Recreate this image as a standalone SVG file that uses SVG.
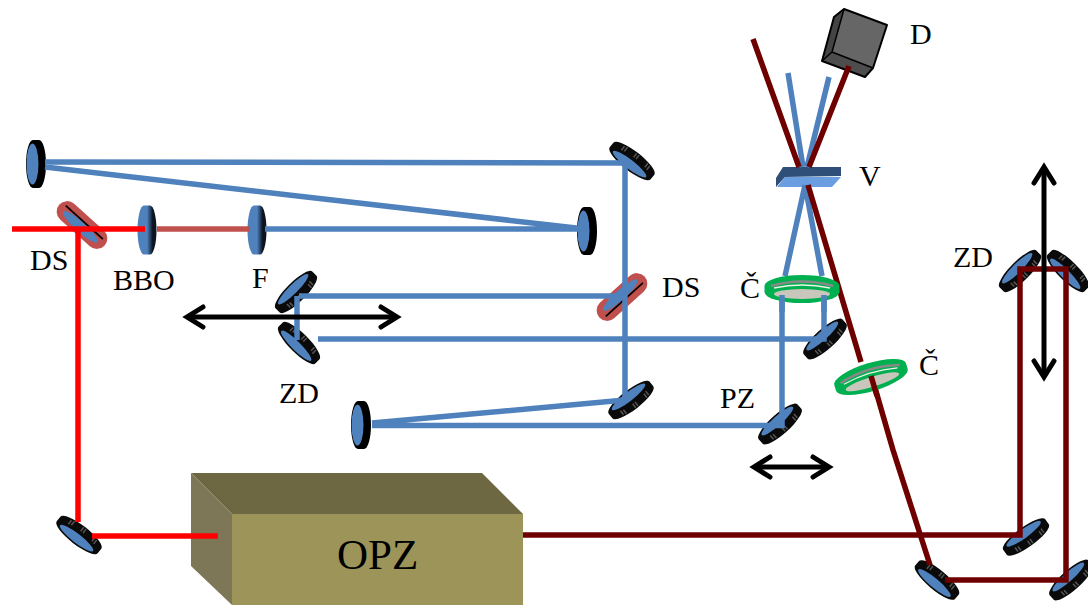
<svg xmlns="http://www.w3.org/2000/svg" width="1088" height="605" viewBox="0 0 1088 605">
<style>
text{font-family:"Liberation Serif","Times New Roman",serif;font-size:30px;fill:#000}
.b{stroke:#4f81bd;stroke-width:5.500;fill:none}
.d{stroke:#6e0000;stroke-width:5.500;fill:none}
.r{stroke:#ff0000;stroke-width:5.500;fill:none}
.a{stroke:#000;stroke-width:5;fill:none}
.tick{stroke:#555;stroke-width:1.500}
.k{fill:#0a0a0a}
</style>
<defs>
<linearGradient id="lg" x1="0" x2="1" y1="0" y2="0"><stop offset="0.5" stop-color="#4f81bd"/><stop offset="0.8" stop-color="#0b1420"/></linearGradient>
<path id="disc" d="M-26 -3A26 7 0 0 1 26 -3V3A26 7 0 0 1 -26 3Z"/>
<g id="mirror-a">
<use href="#disc" class="k"/>
<ellipse cx="0" cy="-4" rx="21" ry="4.500" fill="#4f81bd"/>
<path class="tick" d="M-15 2v5M-12 3v5M-1 4v5M2 4v5M14 3v5M17 2v5"/>
</g>
<g id="mirror-b">
<use href="#disc" class="k"/>
<ellipse cx="0" cy="4" rx="21" ry="4.500" fill="#4f81bd"/>
<path class="tick" d="M-15 -7v5M-12 -8v5M-1 -9v5M2 -9v5M14 -8v5M17 -7v5"/>
</g>
<g id="round"><path d="M-3 -24A7 24 0 0 0 -3 24H3A7 24 0 0 0 3 -24Z" fill="#000"/><ellipse cx="-3.500" cy="0" rx="6" ry="20.500" fill="#4f81bd"/></g>
<g id="plate"><path d="M-3 -24.500A6.500 24.500 0 0 0 -3 24.500H3A6.500 24.500 0 0 0 3 -24.500Z" fill="url(#lg)"/></g>
<g id="ds-a">
<path d="M-20 -10.500H20A10.500 10.500 0 0 1 20 10.500H-20A10.500 10.500 0 0 1 -20 -10.500Z" fill="#c0504d"/>
<ellipse cx="0" cy="-2.500" rx="23" ry="5" fill="#4f81bd"/>
<path d="M-25 3.500H25" stroke="#000" stroke-width="1.800"/>
</g>
<g id="achromat">
<path d="M-37.500 -3A37.500 11 0 0 1 37.500 -3V3A37.500 11 0 0 1 -37.500 3Z" fill="#00b050"/>
<ellipse cx="0" cy="5" rx="28" ry="5" fill="#c9c6bc"/>
<path d="M-31 -3Q0 -12 31 -3" fill="none" stroke="#888" stroke-width="2.500"/>
<path d="M-28 -1Q0 -7 28 -1" fill="none" stroke="#eef2e8" stroke-width="1.300"/>
</g>
<marker id="arr" markerWidth="24" markerHeight="26" refX="19" refY="13" orient="auto-start-reverse" markerUnits="userSpaceOnUse" viewBox="0 0 24 26"><path d="M3 3L19 13L3 23" fill="none" stroke="#000" stroke-width="5" stroke-linecap="round"/></marker>
</defs>

<g id="opz">
<polygon points="191,473 482,473 523,514 232,514" fill="#6e6842"/>
<polygon points="191,473 232,514 232,605 191,566" fill="#7d7757"/>
<rect x="232" y="514" width="291" height="91" fill="#9c9458"/>
<text x="337" y="569" style="font-size:43px">OPZ</text>
</g>
<g id="detector">
<polygon points="844,9 887,25 873,68 832,52" fill="#666"/>
<polygon points="844,9 834,17 822,61 832,52" fill="#444"/>
<polygon points="832,52 873,68 865,77 822,61" fill="#4d4d4d"/>
<polygon points="844,9 887,25 873,68 865,77 822,61 834,17" fill="none" stroke="#000" stroke-width="2" stroke-linejoin="round"/>
<path d="M844,9L832,52L873,68M832,52L822,61" fill="none" stroke="#000" stroke-width="1.500"/>
<text x="910" y="44">D</text>
</g>
<g id="sample">
<polygon points="783,167 841,167 841,176 785,177 776,187 776,178" fill="#2f4f78"/>
<polygon points="785,177 841,177 832,187 777,187" fill="#6a9ee0"/>
<text x="859" y="186">V</text>
</g>
<g id="ds1"><use href="#ds-a" transform="translate(82,225) rotate(42) scale(1,-1)"/><text x="30" y="270">DS</text></g>
<g id="ds2"><use href="#ds-a" transform="translate(622,297) rotate(-42)"/><text x="662" y="297">DS</text></g>
<g id="bbo"><use href="#plate" transform="translate(147,230)"/><text x="113" y="290">BBO</text></g>
<g id="f"><use href="#plate" transform="translate(257,230)"/><text x="252" y="288">F</text></g>
<g id="m1"><use href="#round" transform="translate(36,164)"/></g>
<g id="m2"><use href="#round" transform="translate(587,231)"/></g>
<g id="m3"><use href="#round" transform="translate(361,425)"/></g>
<g id="m4"><use href="#mirror-b" transform="translate(632,161) rotate(38)"/></g>
<g id="m5"><use href="#mirror-a" transform="translate(631,400) rotate(-38)"/></g>
<g id="zd1"><use href="#mirror-a" transform="translate(296,292) rotate(-45)"/><use href="#mirror-b" transform="translate(299,343) rotate(45)"/><text x="279" y="403">ZD</text></g>
<g id="m6"><use href="#mirror-a" transform="translate(825,339) rotate(-42)"/></g>
<g id="pz"><use href="#mirror-a" transform="translate(780,424) rotate(-42)"/><text x="720" y="408">PZ</text></g>
<g id="zd2"><use href="#mirror-a" transform="translate(1020,271) rotate(-45)"/><use href="#mirror-b" transform="translate(1068,271) rotate(45)"/><text x="953" y="267">ZD</text></g>
<g id="m7"><use href="#mirror-a" transform="translate(1026,537) rotate(-36)"/></g>
<g id="m8"><use href="#mirror-a" transform="translate(1071,580) rotate(-42)"/></g>
<g id="m9"><use href="#mirror-b" transform="translate(937,580) rotate(40)"/></g>
<g id="m10"><use href="#mirror-b" transform="translate(79,535) rotate(38)"/></g>

<g id="connectors">
<path class="r" d="M12 229H145M78 229V522M92 536H218"/>
<path d="M157 229H250" stroke="#c0504d" stroke-width="5.500" fill="none"/>
<path class="b" d="M265 229H585L45 167M45 162L625 163V400L372 423M372 425.500H782V296M299 296H622M297 296V340M318 339H824V296"/>
<path class="b" d="M805 185L785 276M805 185L822 276M788 73L803 167M829 77L807 167"/>
<path class="d" d="M753 39L799 167M849 66L809 167M808 185L861 362M871 374L893 450L930 565"/>
<path class="d" d="M523 535H1020V269H1066V580H945"/>
<path class="a" marker-start="url(#arr)" marker-end="url(#arr)" d="M187 317H397"/>
<path class="a" marker-start="url(#arr)" marker-end="url(#arr)" d="M754 467H829"/>
<path class="a" marker-start="url(#arr)" marker-end="url(#arr)" d="M1044 167V377"/>
</g>

<g id="lens1"><use href="#achromat" transform="translate(802,289)"/><path class="b" d="M782 295V312M824 295V312"/><text x="740" y="298">Č</text></g>
<g id="lens2"><use href="#achromat" transform="translate(871,377) rotate(-17)"/><path class="d" d="M871 376L877 396"/><text x="919" y="375">Č</text></g>
</svg>
